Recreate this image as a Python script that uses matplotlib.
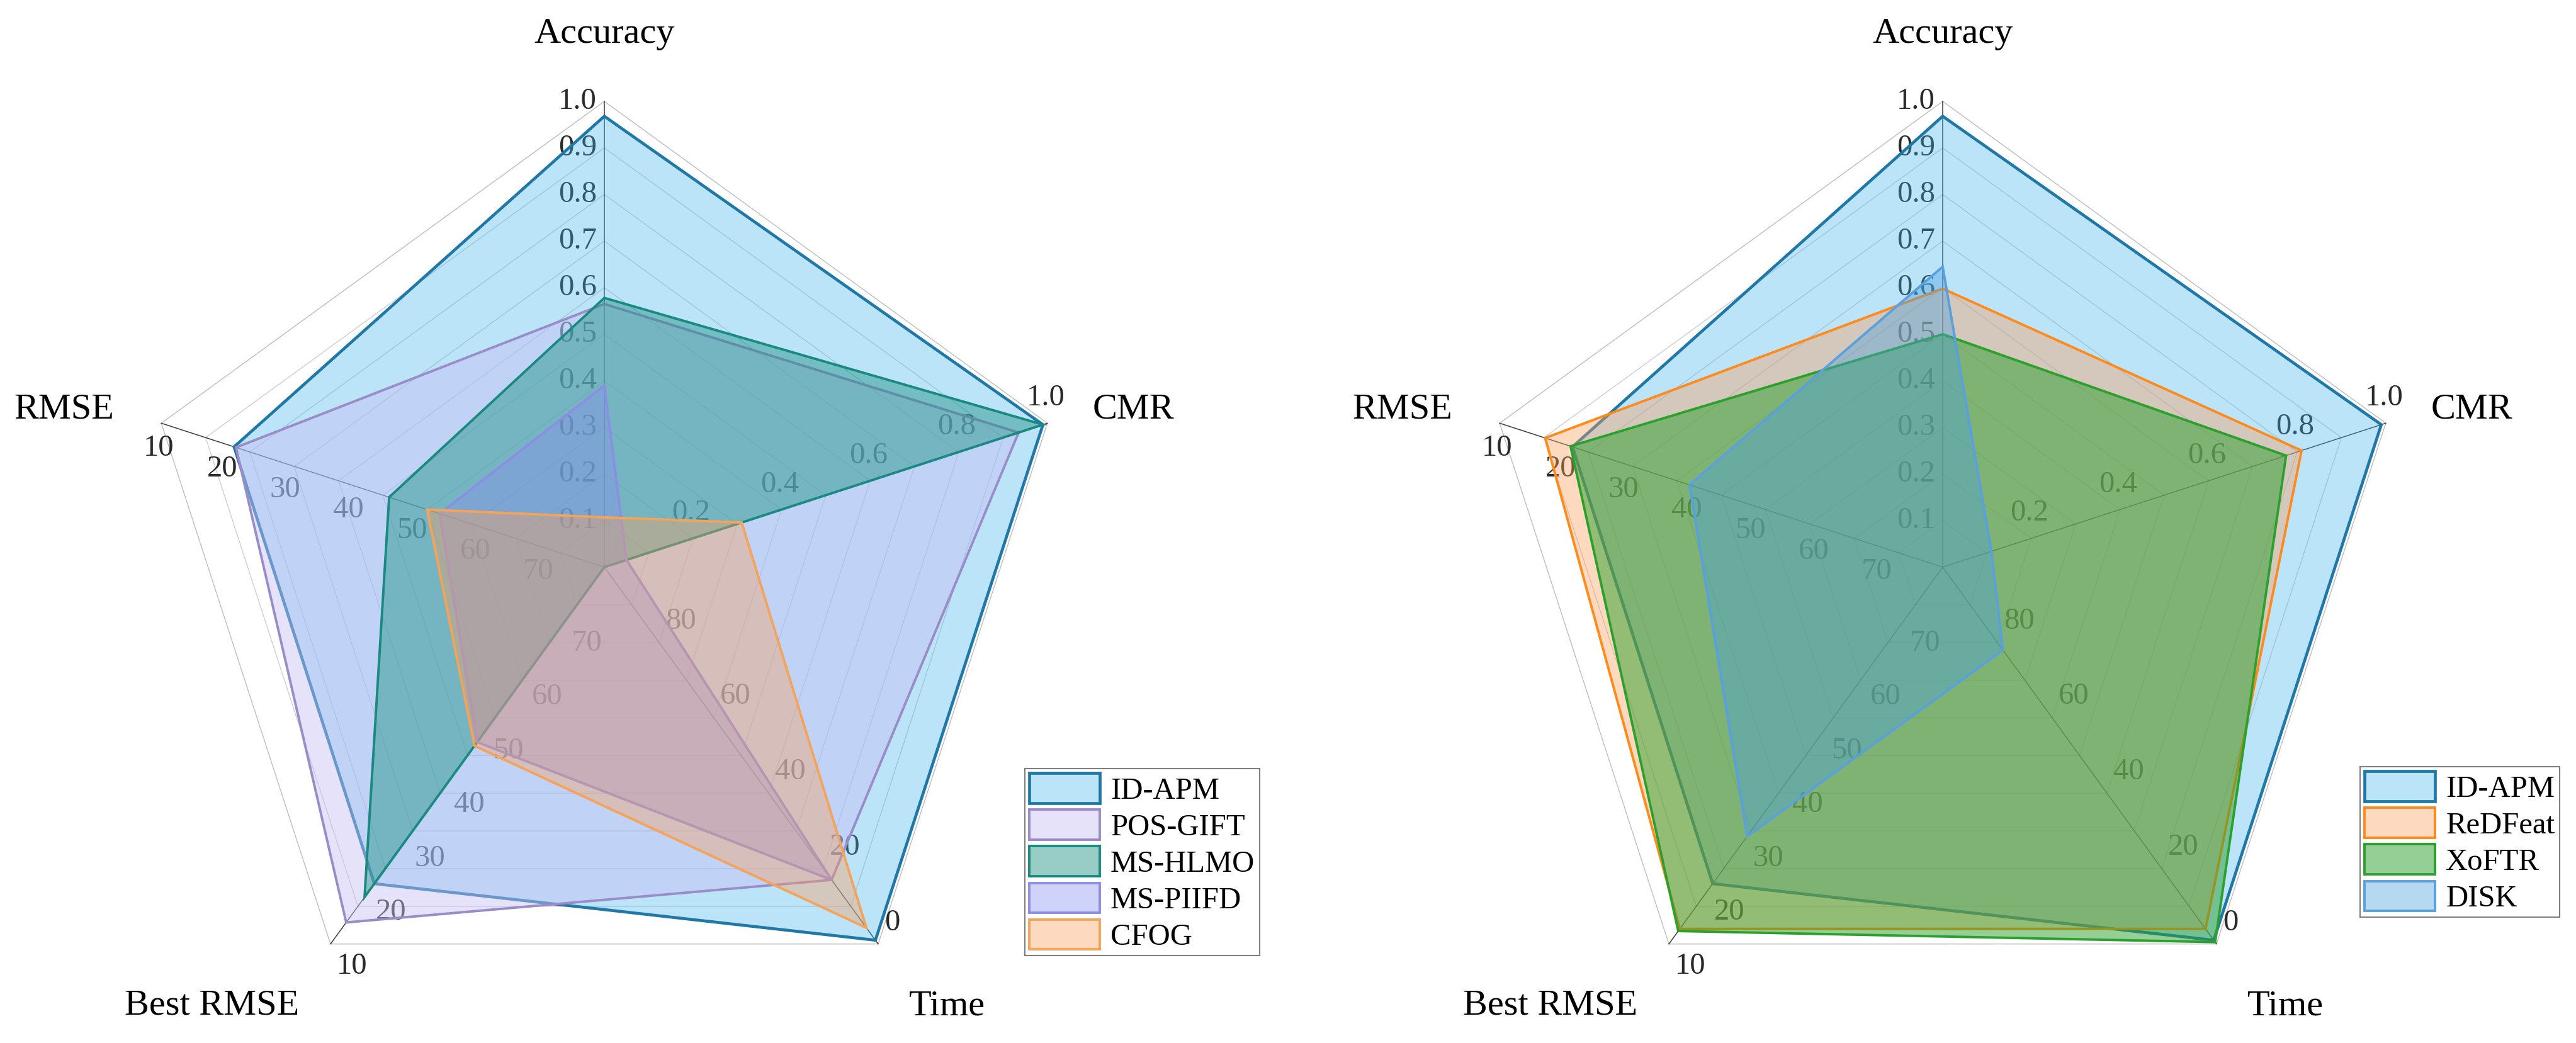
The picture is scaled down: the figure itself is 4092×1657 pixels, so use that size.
import numpy as np
import matplotlib
matplotlib.use("Agg")
import matplotlib.pyplot as plt
from matplotlib.colors import to_rgba

plt.rcParams['font.family'] = ['Liberation Serif', 'DejaVu Serif']

# ---------------- data ----------------
axis_names = ['Accuracy', 'CMR', 'Time', 'Best RMSE', 'RMSE']
# value at the centre and value at the outer ring of every axis
axis_centre = [0.0, 0.0, 100, 80, 80]
axis_outer = [1.0, 1.0, 0, 10, 10]

acc_ticks = [0.1, 0.2, 0.3, 0.4, 0.5, 0.6, 0.7, 0.8, 0.9, 1.0]
cmr_ticks = [0.2, 0.4, 0.6, 0.8, 1.0]
time_ticks = [0, 20, 40, 60, 80]
best_rmse_ticks = [10, 20, 30, 40, 50, 60, 70]
rmse_ticks = [10, 20, 30, 40, 50, 60, 70]
tick_fmt = ['{:.1f}', '{:.1f}', '{:d}', '{:d}', '{:d}']

# values ordered as axis_names: Accuracy, CMR, Time, Best RMSE, RMSE
left_methods = ['ID-APM', 'POS-GIFT', 'MS-HLMO', 'MS-PIIFD', 'CFOG']
id_apm = [0.968, 0.99, 1.0, 21.2, 21.5]
pos_gift = [0.565, 0.935, 17, 14.0, 21.8]
ms_hlmo = [0.578, 0.99, 100, 18.7, 46]
ms_piifd = [0.39, 0.05, 17, 47.5, 54]
cfog = [0.107, 0.31, 4.3, 46.8, 52]

right_methods = ['ID-APM', 'ReDFeat', 'XoFTR', 'DISK']
redfeat = [0.598, 0.81, 4.0, 12.8, 17.2]
xoftr = [0.50, 0.775, 0.5, 12.4, 21.2]
disk = [0.645, 0.11, 78, 30, 40]

# ---------------- styles ----------------
styles = {
    'ID-APM':   ('#3db4ee', 0.35, '#1f78a8', 3.4),
    'POS-GIFT': ('#c8c0f5', 0.45, '#9a8cc8', 2.8),
    'MS-HLMO':  ('#1a9080', 0.45, '#1a8a80', 2.8),
    'MS-PIIFD': ('#8890f0', 0.40, '#8c8ee6', 2.8),
    'CFOG':     ('#f8a060', 0.40, '#f4a35a', 2.8),
    'ReDFeat':  ('#f8a060', 0.40, '#ff8a1c', 2.8),
    'XoFTR':    ('#2ca02c', 0.50, '#2ca02c', 2.8),
    'DISK':     ('#4aa0e0', 0.40, '#5aa0dc', 2.8),
}

# tick label placement (pixel offset, alignment) per axis
tick_offsets = [(-12, 0, 'right'), (-3, 40, 'center'), (10, 34, 'left'),
                (34, -35, 'center'), (-4, -40, 'center')]
# axis-name positions (angle clockwise from top in degrees, radius)
name_pos = [(0, 1.145), (73.4, 1.185), (142, 1.196), (221.8, 1.263), (286.3, 1.208)]

theta = np.arange(5) * 2 * np.pi / 5


def norm(i, v):
    return (v - axis_centre[i]) / (axis_outer[i] - axis_centre[i])


def make_radar(rect):
    ax = fig.add_axes(rect, projection='polar')
    ax.set_theta_offset(np.pi / 2)
    ax.set_theta_direction(-1)
    ax.set_ylim(0, 1)
    ax.axis('off')

    th_closed = np.append(theta, theta[0])
    # pentagon grid
    for k in range(1, 11):
        ax.plot(th_closed, [k / 10] * 6, color='#bdbdbd' if k == 10 else '#cfcfcf',
                lw=1.0, zorder=0.5, clip_on=False)
    # spokes
    for th in theta:
        ax.plot([th, th], [0, 1], color='#3a3a3a', lw=1.1, zorder=0.6, clip_on=False)

    # tick labels (below the fills, like the original)
    all_ticks = [acc_ticks, cmr_ticks, time_ticks, best_rmse_ticks, rmse_ticks]
    for i, ticks in enumerate(all_ticks):
        dx, dy, ha = tick_offsets[i]
        for t in ticks:
            ax.annotate(tick_fmt[i].format(t), xy=(theta[i], norm(i, t)),
                        xytext=(dx, dy), textcoords='offset pixels',
                        ha=ha, va='center', fontsize=35, color='#2a2a2a',
                        zorder=0.7, annotation_clip=False)

    for name, (ang, rad) in zip(axis_names, name_pos):
        ax.text(np.deg2rad(ang), rad, name, ha='center', va='center',
                fontsize=42, color='black', clip_on=False)
    return ax


def draw_series(ax, name, values, z):
    face, alpha, edge, lw = styles[name]
    r = [norm(i, v) for i, v in enumerate(values)]
    r.append(r[0])
    th = np.append(theta, theta[0])
    poly = ax.fill(th, r, facecolor=to_rgba(face, alpha), edgecolor=edge,
                   linewidth=lw, joinstyle='miter', zorder=z, clip_on=False)
    return poly[0]


W, H = 4092, 1657
fig = plt.figure(figsize=(W / 100, H / 100), dpi=100)

R = 740
cy = 901
rect_left = [(960 - R) / W, (H - cy - R) / H, 2 * R / W, 2 * R / H]
rect_right = [(3086 - R) / W, (H - cy - R) / H, 2 * R / W, 2 * R / H]

ax1 = make_radar(rect_left)
left_data = [id_apm, pos_gift, ms_hlmo, ms_piifd, cfog]
h1 = [draw_series(ax1, n, d, 2 + k) for k, (n, d) in enumerate(zip(left_methods, left_data))]

ax2 = make_radar(rect_right)
right_data = [id_apm, redfeat, xoftr, disk]
h2 = [draw_series(ax2, n, d, 2 + k) for k, (n, d) in enumerate(zip(right_methods, right_data))]

leg_kw = dict(loc='upper left', fontsize=35, frameon=True, fancybox=False,
              framealpha=1, edgecolor='#7f7f7f', borderpad=0.15,
              handlelength=2.3, handleheight=1.13, labelspacing=0.16,
              handletextpad=0.35, borderaxespad=0)
leg1 = fig.legend(h1, left_methods, bbox_to_anchor=(1628 / W, 1 - 1221 / H), **leg_kw)
leg2 = fig.legend(h2, right_methods, bbox_to_anchor=(3749 / W, 1 - 1218 / H), **leg_kw)
for lg in (leg1, leg2):
    lg.get_frame().set_linewidth(1.5)

fig.savefig('out.png', dpi=100)
